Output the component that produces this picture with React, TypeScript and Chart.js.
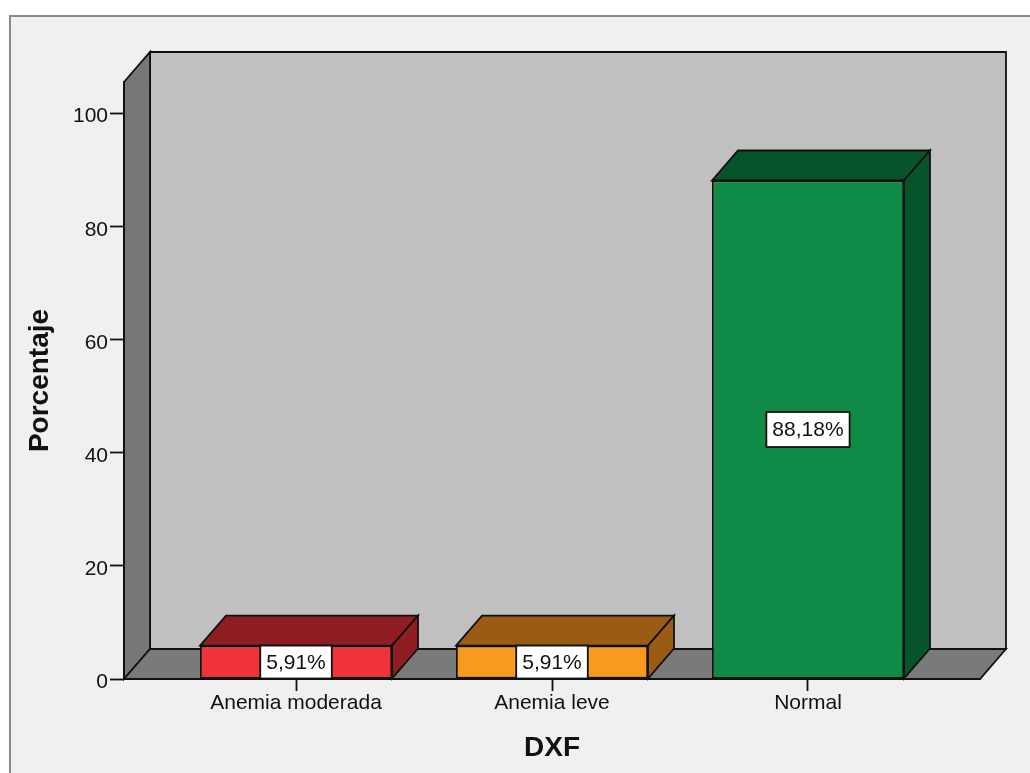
import React, { useEffect, useRef } from "react";
import { Chart, registerables } from "chart.js";

Chart.register(...registerables);

// ---- data ----
const categories = ["Anemia moderada", "Anemia leve", "Normal"];
const percentages = [5.91, 5.91, 88.18];
const frontColors = ["#f0333a", "#f79a1e", "#0f8b47"];
const depthColors = ["#8f1e22", "#9a5c12", "#07532a"];
const yTickValues = [0, 20, 40, 60, 80, 100];
const yAxisTitle = "Porcentaje";
const xAxisTitle = "DXF";

const FONT = '"Liberation Sans", Arial, Helvetica, sans-serif';
const DX = 26;
const DY = -30;
const LINE = 1.8;

function poly(ctx: CanvasRenderingContext2D, pts: number[][], fill: string) {
  ctx.beginPath();
  ctx.moveTo(pts[0][0], pts[0][1]);
  for (let i = 1; i < pts.length; i++) ctx.lineTo(pts[i][0], pts[i][1]);
  ctx.closePath();
  ctx.fillStyle = fill;
  ctx.fill();
  ctx.strokeStyle = "#111111";
  ctx.lineWidth = LINE;
  ctx.lineJoin = "miter";
  ctx.stroke();
}

const fmt = (v: number) => v.toFixed(2).replace(".", ",") + "%";

const depthPlugin = {
  id: "depth3d",
  beforeDraw(chart: any) {
    const { ctx, chartArea: a, width, height } = chart;
    ctx.save();
    ctx.fillStyle = "#ffffff";
    ctx.fillRect(0, 0, width, height);
    ctx.fillStyle = "#f0f0f0";
    ctx.fillRect(10, 16, width - 10, height - 16);
    ctx.strokeStyle = "#8a8a8a";
    ctx.lineWidth = 2;
    ctx.beginPath();
    ctx.moveTo(10, height);
    ctx.lineTo(10, 16);
    ctx.lineTo(width, 16);
    ctx.stroke();
    // back wall
    poly(ctx, [
      [a.left + DX, a.top + DY],
      [a.right + DX, a.top + DY],
      [a.right + DX, a.bottom + DY],
      [a.left + DX, a.bottom + DY],
    ], "#c0c0c0");
    // left wall
    poly(ctx, [
      [a.left, a.top],
      [a.left + DX, a.top + DY],
      [a.left + DX, a.bottom + DY],
      [a.left, a.bottom],
    ], "#777777");
    // floor
    poly(ctx, [
      [a.left, a.bottom],
      [a.left + DX, a.bottom + DY],
      [a.right + DX, a.bottom + DY],
      [a.right, a.bottom],
    ], "#7a7a7a");
    ctx.restore();
  },
  beforeDatasetsDraw(chart: any) {
    const { ctx } = chart;
    const meta = chart.getDatasetMeta(0);
    ctx.save();
    meta.data.forEach((el: any, i: number) => {
      const { x, y, base, width } = el.getProps(["x", "y", "base", "width"], true);
      const L = x - width / 2;
      const R = x + width / 2;
      const T = Math.min(y, base);
      const B = Math.max(y, base);
      poly(ctx, [[L, T], [R, T], [R + DX, T + DY], [L + DX, T + DY]], depthColors[i]);
      poly(ctx, [[R, T], [R + DX, T + DY], [R + DX, B + DY], [R, B]], depthColors[i]);
    });
    ctx.restore();
  },
  afterDatasetsDraw(chart: any) {
    const { ctx } = chart;
    const meta = chart.getDatasetMeta(0);
    ctx.save();
    ctx.font = `21px ${FONT}`;
    ctx.textAlign = "center";
    ctx.textBaseline = "middle";
    meta.data.forEach((el: any, i: number) => {
      const { x, y, base } = el.getProps(["x", "y", "base"], true);
      const T = Math.min(y, base);
      const B = Math.max(y, base);
      const cy = (T + B) / 2;
      const text = fmt(percentages[i]);
      const tw = ctx.measureText(text).width;
      const bw = tw + 12;
      const bh = Math.min(35, B - T);
      ctx.fillStyle = "#ffffff";
      ctx.fillRect(x - bw / 2, cy - bh / 2, bw, bh);
      ctx.strokeStyle = "#111111";
      ctx.lineWidth = LINE;
      ctx.strokeRect(x - bw / 2, cy - bh / 2, bw, bh);
      ctx.fillStyle = "#111111";
      ctx.fillText(text, x, cy + 1);
    });
    ctx.restore();
  },
};

export default function App() {
  const canvasRef = useRef<HTMLCanvasElement | null>(null);

  useEffect(() => {
    if (!canvasRef.current) return;
    const chart = new Chart(canvasRef.current, {
      type: "bar",
      data: {
        datasets: [
          {
            data: percentages.map((v, i) => ({ x: i, y: v })),
            backgroundColor: frontColors,
            borderColor: "#111111",
            borderWidth: LINE,
            borderSkipped: false,
            categoryPercentage: 1,
            barPercentage: 0.75,
          },
        ],
      },
      options: {
        animation: false,
        responsive: false,
        devicePixelRatio: 1,
        layout: { padding: { left: 0, top: 82, right: 50, bottom: 0 } },
        plugins: {
          legend: { display: false },
          tooltip: { enabled: false },
        },
        scales: {
          x: {
            type: "linear",
            min: -0.672,
            max: 2.672,
            offset: false,
            afterBuildTicks: (scale: any) => {
              scale.ticks = categories.map((_, i) => ({ value: i }));
            },
            afterFit: (scale: any) => {
              scale.height = 94;
            },
            grid: {
              offset: false,
              drawOnChartArea: false,
              drawTicks: true,
              tickLength: 12,
              tickColor: "#111111",
              tickWidth: 1.8,
            },
            border: { display: true, color: "#111111", width: 2 },
            ticks: {
              autoSkip: false,
              maxRotation: 0,
              padding: 0,
              color: "#111111",
              font: { family: FONT, size: 21 },
              callback: (v: any) => categories[Math.round(Number(v))] ?? "",
            },
            title: {
              display: true,
              text: xAxisTitle,
              color: "#111111",
              font: { family: FONT, size: 28, weight: "bold" },
              padding: { top: 0, bottom: 8 },
            },
          },
          y: {
            type: "linear",
            min: 0,
            max: 105.6,
            afterBuildTicks: (scale: any) => {
              scale.ticks = yTickValues.map((v) => ({ value: v }));
            },
            afterFit: (scale: any) => {
              scale.width = 124;
            },
            grid: {
              drawOnChartArea: false,
              drawTicks: true,
              tickLength: 14,
              tickColor: "#111111",
              tickWidth: 1.8,
            },
            border: { display: true, color: "#111111", width: 2 },
            ticks: {
              padding: 2,
              labelOffset: 3,
              color: "#111111",
              font: { family: FONT, size: 21 },
              callback: (v: any) => String(v),
            },
            title: {
              display: true,
              text: yAxisTitle,
              color: "#111111",
              font: { family: FONT, size: 28, weight: "bold" },
              padding: { top: 23, bottom: 0 },
            },
          },
        },
      },
      plugins: [depthPlugin],
    } as any);
    return () => chart.destroy();
  }, []);

  return (
    <div style={{ position: "absolute", left: 0, top: 0, width: 1030, height: 773 }}>
      <canvas ref={canvasRef} width={1030} height={773} style={{ display: "block" }} />
    </div>
  );
}
